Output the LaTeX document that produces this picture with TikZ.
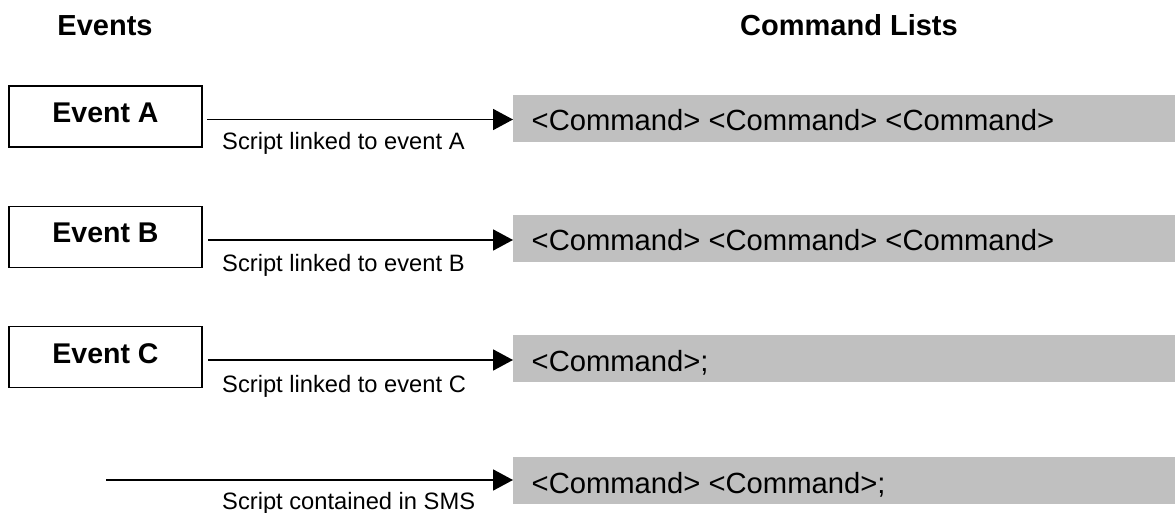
\documentclass[tikz,border=0pt]{standalone}
\usepackage{fontspec}
\setmainfont{Liberation Sans}
\usetikzlibrary{arrows.meta,calc}
\definecolor{bargray}{HTML}{C0C0C0}
\begin{document}
\begin{tikzpicture}[x=1pt,y=-1pt,
  header/.style={font=\fontsize{29}{32}\selectfont\bfseries,anchor=base,inner sep=0pt},
  evbox/.style={draw,line width=1.8pt,minimum width=193pt,minimum height=61pt,inner sep=0pt,
    text height=20pt,text depth=8pt,font=\fontsize{28.5}{30}\selectfont\bfseries},
  cmdbar/.style={fill=bargray,draw=none,minimum width=662pt,minimum height=47pt,inner sep=0pt,anchor=west},
  cmdtext/.style={font=\fontsize{29.2}{32}\selectfont,anchor=base west,inner sep=0pt},
  scriptlbl/.style={font=\fontsize{23.7}{26}\selectfont,anchor=base west,inner sep=0pt},
  link/.style={line width=1.8pt,-{Triangle[length=20pt,width=21pt]}}
]
\useasboundingbox (0,0) rectangle (1175,513);

% headers
\node[header] (hEv) at (105,36) {Events};
\node[header] (hCmd) at (849,36) {Command Lists};

% event boxes
\node[evbox] (evA) at (105.5,116.5) {Event A};
\node[evbox] (evB) at (105.5,237) {Event B};
\node[evbox] (evC) at (105.5,357) {Event C};

% command bars
\node[cmdbar] (barA) at (513,118.5) {};
\node[cmdbar] (barB) at (513,238.5) {};
\node[cmdbar] (barC) at (513,358.5) {};
\node[cmdbar] (barD) at (513,480.5) {};

\node[cmdtext] (cmdA) at (531.5,131) {<Command> <Command> <Command>};
\node[cmdtext] (cmdB) at (531.5,251) {<Command> <Command> <Command>};
\node[cmdtext] (cmdC) at (531.5,371) {<Command>;};
\node[cmdtext] (cmdD) at (531.5,493) {<Command> <Command>;};

% connector start points
\coordinate (sA) at (207,119.5);
\coordinate (sB) at (208,240);
\coordinate (sC) at (208,360);
\coordinate (sD) at (106,480);

\draw[link] (sA) -- (sA -| barA.west);
\draw[link] (sB) -- (sB -| barB.west);
\draw[link] (sC) -- (sC -| barC.west);
\draw[link] (sD) -- (sD -| barD.west);

% connector labels
\node[scriptlbl] (lA) at (222,150) {Script linked to event A};
\node[scriptlbl] (lB) at (222,271) {Script linked to event B};
\node[scriptlbl] (lC) at (222,392) {Script linked to event C};
\node[scriptlbl] (lD) at (222,509.5) {Script contained in SMS};
\end{tikzpicture}
\end{document}
